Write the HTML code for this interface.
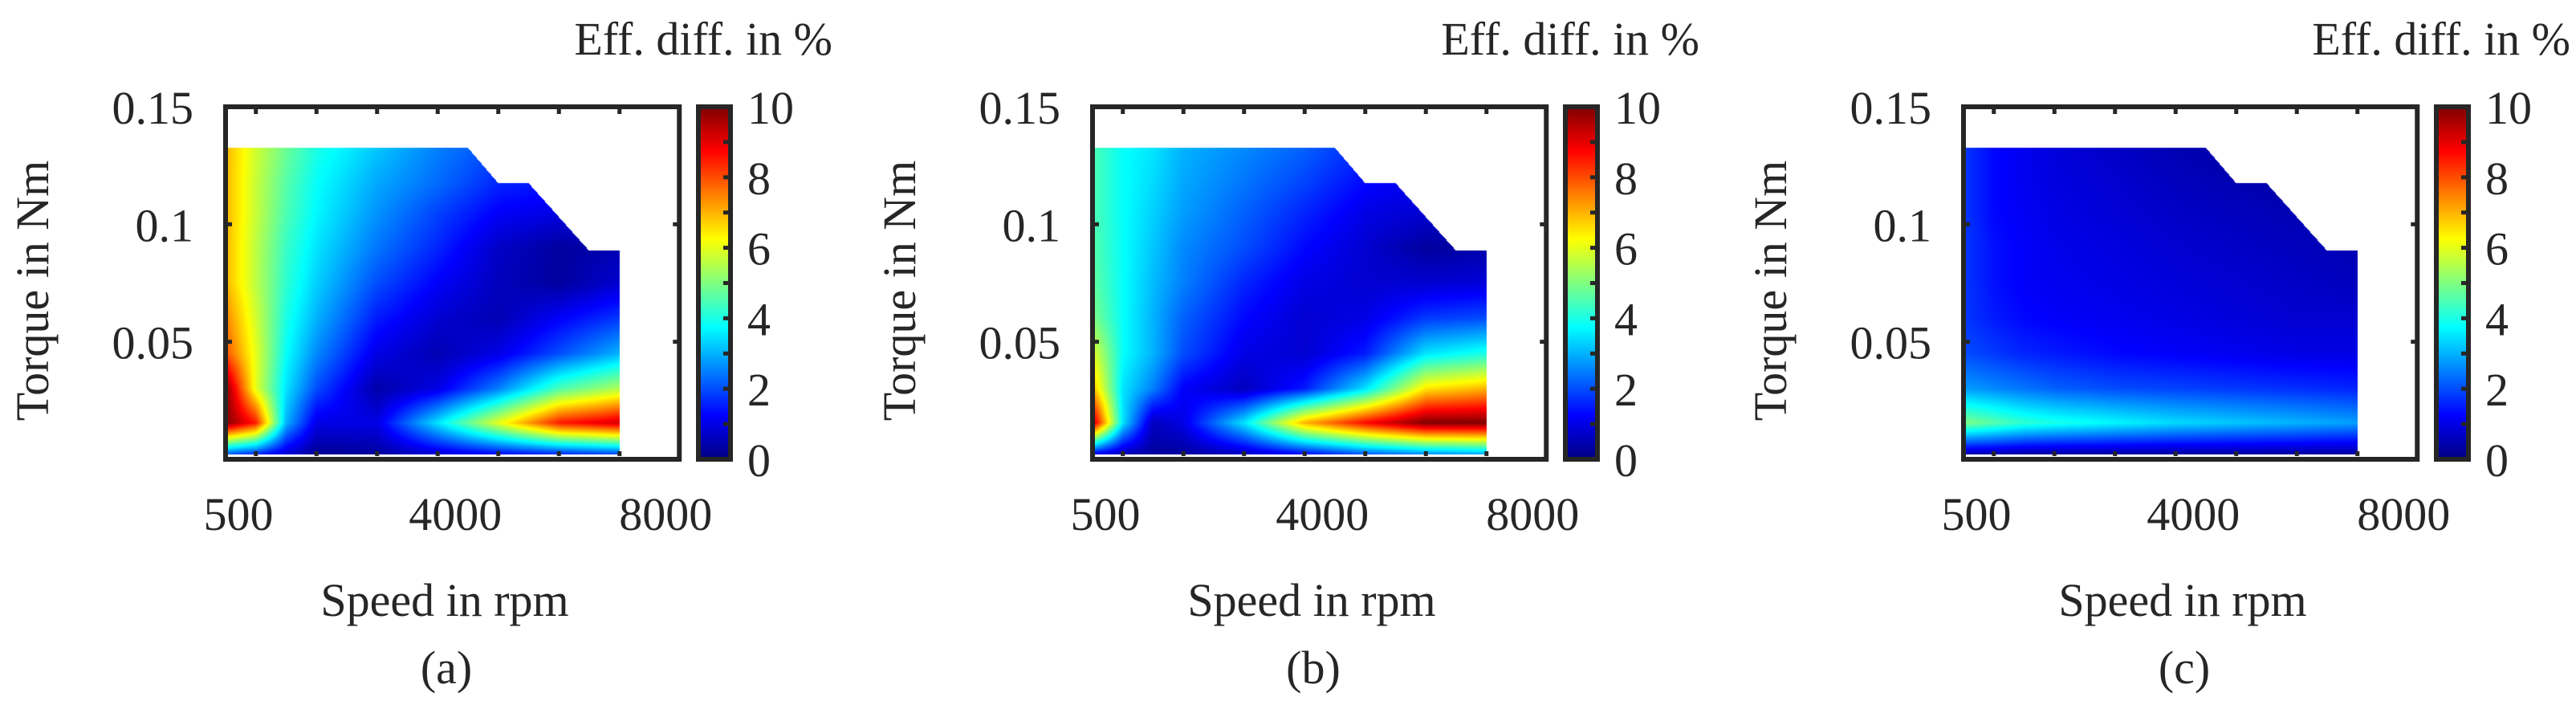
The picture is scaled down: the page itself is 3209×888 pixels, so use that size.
<!DOCTYPE html>
<html><head><meta charset="utf-8"><style>
html,body{margin:0;padding:0;background:#fff;}
#wrap{position:relative;width:3209px;height:888px;overflow:hidden;background:#fff;}
canvas{position:absolute;left:0;top:0;}
svg{position:absolute;left:0;top:0;}
text{font-family:"Liberation Serif",serif;fill:#262626;}
</style></head><body>
<div id="wrap">
<canvas id="cv" width="3209" height="888"></canvas>
<svg id="sv" width="3209" height="888" xmlns="http://www.w3.org/2000/svg"></svg>
</div>
<script>
const speeds = [500,1000,1500,2000,3000,4000,5000,6000,7000];
const torques = [0.002,0.0155,0.03,0.045,0.06,0.075,0.09,0.105,0.1175,0.1325];
const valuesA = [
 [2,1.5,0.8,0.2,0.3,0.8,1.2,1.5,1.8],
 [10,8.5,3,1,1,3.5,6,8.5,9.2],
 [10,6,3.5,2,0.4,1,2.5,4.5,5.5],
 [8,6,3.8,2.6,1,0.5,1,2,3],
 [7.5,5.8,4,3,1.5,0.8,0.5,1.2,1.8],
 [7,5.6,4.2,3.3,2,1.2,0.6,0.3,0.8],
 [7,5.6,4.3,3.5,2.4,1.6,0.7,0.3,0.5],
 [7,5.7,4.5,3.7,2.7,1.9,1.2,1,1],
 [7,5.7,4.6,3.8,2.9,2.3,1.6,1.4,1.4],
 [7,5.8,4.8,4,3.2,2.5,2,1.8,1.8]
];
const valuesB = [
 [1,0.5,0.3,0.3,0.6,1.2,2,2.5,2.8],
 [9.5,3.5,0.6,1,3.5,7,8.7,10,10],
 [7,3.5,2.5,1.2,0.6,1.5,3.5,6.5,7],
 [6,3.8,3,2,1,0.8,1.5,3.5,4],
 [5,3.8,3,2.2,1.3,0.8,1,1.8,2],
 [4.7,3.8,3.1,2.5,1.6,1,0.8,0.8,0.9],
 [4.6,3.8,3.2,2.6,2,1.3,0.8,0.3,0.4],
 [4.5,3.8,3.3,2.8,2.2,1.6,1,0.8,0.8],
 [4.5,3.8,3.4,2.9,2.4,1.9,1.3,1,1],
 [4.5,3.8,3.5,3,2.6,2.2,1.6,1.4,1.4]
];
const valuesC = [
 [0.4,0.4,0.3,0.3,0.3,0.3,0.3,0.3,0.3],
 [5,4.6,4.2,4,3.7,3.4,3.2,3,2.8],
 [2.8,2.6,2.4,2.2,2,1.9,1.8,1.7,1.6],
 [2,1.8,1.6,1.5,1.3,1.2,1.1,1,1],
 [1.8,1.5,1.3,1.2,1.1,1,0.9,0.8,0.8],
 [1.8,1.4,1.2,1.1,1,0.9,0.8,0.7,0.6],
 [1.8,1.4,1.2,1.05,0.95,0.8,0.7,0.6,0.5],
 [1.8,1.3,1.15,1,0.85,0.7,0.6,0.5,0.5],
 [1.8,1.3,1.1,0.95,0.8,0.6,0.5,0.4,0.4],
 [1.8,1.3,1.1,0.9,0.7,0.5,0.4,0.4,0.4]
];
const boundarySpeed = [500,500,4500,5000,5500,6500,7000,7000];
const boundaryTorque = [0,0.1325,0.1325,0.1175,0.1175,0.0887,0.0887,0];
const xTickLabels = ["500","4000","8000"];
const xTickLabelVals = [500,4000,8000];
const yTickLabels = ["0.15","0.1","0.05"];
const yTickVals = [0.15,0.1,0.05];
const cbarTickLabels = ["0","2","4","6","8","10"];
const cbarTickVals = [0,2,4,6,8,10];
const panelLetters = ["(a)","(b)","(c)"];
const panelOffsets = [0,1080,2165];

const NS="http://www.w3.org/2000/svg";
const FS=58;
const sv=document.getElementById('sv');
const ctx=document.getElementById('cv').getContext('2d');
function X(s,o){return o+281+(s-500)*0.0755;}
function Y(t){return 572-t*(439/0.15);}
function CY(v){return 572-v*43.9;}
function clamp(a){return Math.max(0,Math.min(1,a));}
function jet(v){v=clamp(v/10);return [clamp(1.5-Math.abs(4*v-3)),clamp(1.5-Math.abs(4*v-2)),clamp(1.5-Math.abs(4*v-1))].map(c=>Math.round(c*255));}
function mk(tag,attrs,parent){const e=document.createElementNS(NS,tag);for(const k in attrs)e.setAttribute(k,attrs[k]);(parent||sv).appendChild(e);return e;}
function idx(arr,v){let i=0;while(i<arr.length-2&&v>arr[i+1])i++;let f=(v-arr[i])/(arr[i+1]-arr[i]);return [i,clamp(f)];}
function interp(M,s,t){const [i,fi]=idx(speeds,s);const [j,fj]=idx(torques,t);
 return (M[j][i]*(1-fi)+M[j][i+1]*fi)*(1-fj)+(M[j+1][i]*(1-fi)+M[j+1][i+1]*fi)*fj;}
function inPoly(s,t){let c=false;const n=boundarySpeed.length;for(let i=0,j=n-1;i<n;j=i++){const xi=boundarySpeed[i],yi=boundaryTorque[i],xj=boundarySpeed[j],yj=boundaryTorque[j];
 if(((yi>t)!=(yj>t))&&(s<(xj-xi)*(t-yi)/(yj-yi)+xi))c=!c;}return c;}

const defs=mk('defs',{});
const grad=mk('linearGradient',{id:'jetg',x1:'0',y1:'1',x2:'0',y2:'0'},defs);
for(let k=0;k<=40;k++){const c=jet(k/4);mk('stop',{offset:(k/40),'stop-color':'rgb('+c.join(',')+')'},grad);}

const allVals=[valuesA,valuesB,valuesC];
allVals.forEach((M,p)=>{
 const o=panelOffsets[p];
 const x0=Math.floor(X(500,o)),x1=Math.ceil(X(7000,o)),y0=Math.floor(Y(0.1325)),y1=Math.ceil(Y(0.002));
 const img=ctx.createImageData(x1-x0,y1-y0);
 for(let py=y0;py<y1;py++){const t=(572-(py+0.5))*0.15/439;
  for(let px=x0;px<x1;px++){const s=500+((px+0.5)-o-281)/0.0755;
   if(!inPoly(s,t)||t<0.002)continue;
   const c=jet(interp(M,Math.min(7000,Math.max(500,s)),t));const k=((py-y0)*(x1-x0)+(px-x0))*4;
   img.data[k]=c[0];img.data[k+1]=c[1];img.data[k+2]=c[2];img.data[k+3]=255;}}
 ctx.putImageData(img,x0,y0);

 const g=mk('g',{});
 
 
 const frame=mk('rect',{x:X(500,o),y:133,width:X(8000,o)-X(500,o)-1,height:439,fill:'none',stroke:'#262626','stroke-width':6},g);
 
 
 for(let s=1000;s<=7000;s+=1000){
  const a=mk('line',{x1:X(s,o),x2:X(s,o),y1:568,y2:562,stroke:'#262626','stroke-width':5},g);
  
  
  const b=mk('line',{x1:X(s,o),x2:X(s,o),y1:136,y2:142,stroke:'#262626','stroke-width':5},g);
  
  
 }
 yTickVals.forEach((v,i)=>{
  const l1=mk('line',{x1:X(500,o),x2:X(500,o)+8,y1:Y(v),y2:Y(v),stroke:'#262626','stroke-width':5},g);
  
  
  const l2=mk('line',{x1:X(8000,o)-9,x2:X(8000,o)-1,y1:Y(v),y2:Y(v),stroke:'#262626','stroke-width':5},g);
  
  
  const tx=mk('text',{x:o+241,y:Y(v)+21,'font-size':FS,'text-anchor':'end'},g);
  tx.textContent=yTickLabels[i];
  
  
 });
 const xoff=[16,22,-18];
 xTickLabelVals.forEach((v,i)=>{
  const tx=mk('text',{x:X(v,o)+xoff[i],y:660,'font-size':FS,'text-anchor':'middle'},g);
  tx.textContent=xTickLabels[i];
  
  
 });
 const cb=mk('rect',{x:o+870,y:133,width:40,height:439,fill:'url(#jetg)',stroke:'#262626','stroke-width':6},g);
 
 
 for(let v=1;v<10;v++){
  const t=mk('line',{x1:o+907,x2:o+901,y1:CY(v),y2:CY(v),stroke:'#262626','stroke-width':5},g);
  
  
 }
 cbarTickVals.forEach((v,i)=>{
  const tx=mk('text',{x:o+931,y:CY(v)+21,'font-size':FS},g);
  tx.textContent=cbarTickLabels[i];
  
  
 });
 const ti=mk('text',{x:o+1037,y:68,'font-size':FS,'text-anchor':'end'},g);
 ti.textContent='Eff. diff. in %';
 
 
 const xl=mk('text',{x:o+554,y:767,'font-size':FS,'text-anchor':'middle'},g);
 xl.textContent='Speed in rpm';
 
 
 const yl=mk('text',{x:0,y:0,'font-size':FS,'text-anchor':'middle',transform:'translate('+(o+60)+',362) rotate(-90)'},g);
 yl.textContent='Torque in Nm';
 
 
 const pl=mk('text',{x:o+556,y:851,'font-size':FS,'text-anchor':'middle'},g);
 pl.textContent=panelLetters[p];
 
 
});
</script>
</body></html>
